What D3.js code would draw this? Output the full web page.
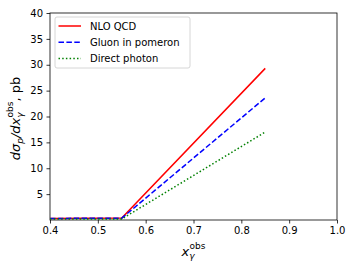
<!DOCTYPE html>
<html lang="en">
<head>
<meta charset="utf-8">
<script src="https://d3js.org/d3.v7.min.js"></script>
<style>
  body { margin: 0; background: #fff; }
  svg text { font-family: "DejaVu Sans", sans-serif; fill: #000; }
</style>
</head>
<body>
<svg id="chart" width="354" height="266"></svg>
<script>
// data
var xVals = [0.4, 0.55, 0.85];
var nloQcd = [0.3, 0.4, 29.3];
var gluonPom = [0.3, 0.35, 23.6];
var directPhoton = [0.2, 0.2, 17.0];
var seriesNames = ["NLO QCD", "Gluon in pomeron", "Direct photon"];
var xTicks = [0.4, 0.5, 0.6, 0.7, 0.8, 0.9, 1.0];
var yTicks = [5, 10, 15, 20, 25, 30, 35, 40];

var margin = {top: 13, right: 17, bottom: 46, left: 50},
    width = 354 - margin.left - margin.right,
    height = 266 - margin.top - margin.bottom;

var svg = d3.select("#chart")
  .append("g")
  .attr("transform", "translate(" + margin.left + "," + margin.top + ")");

var x = d3.scaleLinear().domain([0.4, 1.0]).range([0, width]);
var y = d3.scaleLinear().domain([0, 40]).range([height, 0]);

// axes
var xAxis = svg.append("g")
  .attr("transform", "translate(0," + height + ")")
  .call(d3.axisBottom(x).tickValues(xTicks).tickFormat(d3.format(".1f")).tickSize(3.5).tickPadding(3.5));
var yAxis = svg.append("g")
  .call(d3.axisLeft(y).tickValues(yTicks).tickSize(3.5).tickPadding(3.5));
[xAxis, yAxis].forEach(function(a){
  a.selectAll("text").style("font-size", "10px").style("font-family", "DejaVu Sans");
  a.select(".domain").remove();
  a.selectAll("line").attr("stroke", "#000").attr("stroke-width", 0.8);
});

// frame
svg.append("rect")
  .attr("width", width).attr("height", height)
  .attr("fill", "none").attr("stroke", "#000").attr("stroke-width", 0.8);

var series = [
  {name: seriesNames[0], vals: nloQcd, color: "#ff0000", dash: null},
  {name: seriesNames[1], vals: gluonPom, color: "#0000ff", dash: "5.5,2.4"},
  {name: seriesNames[2], vals: directPhoton, color: "#008000", dash: "1.5,2.2"}
];

var line = d3.line()
  .x(function(d){ return x(d[0]); })
  .y(function(d){ return y(d[1]); });

svg.selectAll(".series")
  .data(series)
  .enter()
  .append("path")
  .attr("d", function(s){ return line(xVals.map(function(v, i){ return [v, s.vals[i]]; })); })
  .attr("fill", "none")
  .attr("stroke", function(s){ return s.color; })
  .attr("stroke-width", 1.5)
  .attr("stroke-dasharray", function(s){ return s.dash; });

// legend
var lg = svg.append("g").attr("transform", "translate(5,4)");
lg.append("rect")
  .attr("width", 135).attr("height", 51).attr("rx", 2)
  .attr("fill", "#fff").attr("fill-opacity", 0.8)
  .attr("stroke", "#ccc").attr("stroke-width", 0.8);
var items = lg.selectAll(".item")
  .data(series)
  .enter()
  .append("g")
  .attr("transform", function(d, i){ return "translate(0," + (9 + i * 16.2) + ")"; });
items.append("line")
  .attr("x1", 3.5).attr("x2", 26)
  .attr("stroke", function(d){ return d.color; })
  .attr("stroke-width", 1.5)
  .attr("stroke-dasharray", function(d){ return d.dash; });
items.append("text")
  .attr("x", 35).attr("dy", "0.35em")
  .style("font-size", "10px")
  .text(function(d){ return d.name; });

// x label
var xl = svg.append("text")
  .attr("x", width / 2).attr("y", height + 36)
  .attr("text-anchor", "middle")
  .style("font-size", "13px");
xl.append("tspan").style("font-style", "italic").text("x");
xl.append("tspan").attr("dy", 3).style("font-size", "9px").style("font-style", "italic").text("γ");
xl.append("tspan").attr("dx", -5).attr("dy", -10).style("font-size", "9px").text("obs");

// y label
var yl = svg.append("text")
  .attr("transform", "translate(-30," + (height / 2 + 2) + ") rotate(-90)")
  .attr("text-anchor", "middle")
  .style("font-size", "13px");
yl.append("tspan").style("font-style", "italic").text("dσ");
yl.append("tspan").attr("dy", 3).style("font-size", "9px").style("font-style", "italic").text("p");
yl.append("tspan").attr("dy", -3).style("font-style", "italic").text("/dx");
yl.append("tspan").attr("dy", 3).style("font-size", "9px").style("font-style", "italic").text("γ");
yl.append("tspan").attr("dx", -5).attr("dy", -10).style("font-size", "9px").text("obs");
yl.append("tspan").attr("dy", 7).text(", pb");
</script>
</body>
</html>
